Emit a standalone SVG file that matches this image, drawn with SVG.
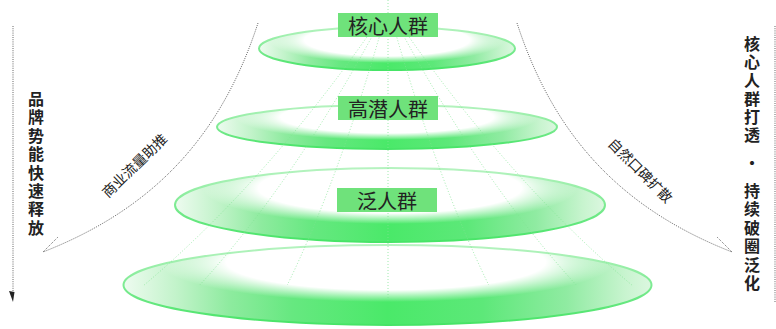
<svg xmlns="http://www.w3.org/2000/svg" width="776" height="329" viewBox="0 0 776 329">
<defs>
<linearGradient id="discFill" x1="0" y1="0" x2="1" y2="0">
<stop offset="0" stop-color="#eefbf0"/>
<stop offset="0.1" stop-color="#c2f3ca"/>
<stop offset="0.2" stop-color="#8eeb9f"/>
<stop offset="0.32" stop-color="#66e880"/>
<stop offset="0.5" stop-color="#4ae969"/>
<stop offset="0.68" stop-color="#5de879"/>
<stop offset="0.84" stop-color="#90eba2"/>
<stop offset="0.95" stop-color="#c8f4cf"/>
<stop offset="1" stop-color="#dcf7e0"/>
</linearGradient>
<radialGradient id="glow" cx="0.5" cy="0.5" r="0.5">
<stop offset="0" stop-color="#ffffff" stop-opacity="1"/>
<stop offset="0.7" stop-color="#ffffff" stop-opacity="1"/>
<stop offset="1" stop-color="#ffffff" stop-opacity="0"/>
</radialGradient>
<linearGradient id="rim" x1="0" y1="0" x2="0" y2="1">
<stop offset="0" stop-color="#b6f3c0"/>
<stop offset="0.6" stop-color="#72e989"/>
<stop offset="1" stop-color="#46e466"/>
</linearGradient>
</defs>
<style>
.fill{fill:url(#discFill);stroke:none}
.glow{fill:url(#glow);stroke:none}
.rim{fill:none;stroke:url(#rim);stroke-width:2}
.mer{fill:none;stroke:#7fe390;stroke-width:1;stroke-dasharray:1 2;opacity:0.75}
.guide{fill:none;stroke:#555;stroke-width:0.9;stroke-dasharray:1 1.2}
.lbl{fill:#6fe27b}
.lt{font-family:"Noto Sans CJK SC","Noto Sans",sans-serif;font-size:20px;fill:#222;text-anchor:middle;dominant-baseline:central}
.vt{font-family:"Noto Sans CJK SC","Noto Sans",sans-serif;font-size:16px;font-weight:bold;fill:#222;text-anchor:middle;dominant-baseline:central}
.ct{font-family:"Noto Sans CJK SC","Noto Sans",sans-serif;font-size:14px;fill:#222;text-anchor:middle;dominant-baseline:central}
</style>
<rect width="776" height="329" fill="#ffffff"/>

<g id="disc4">
<ellipse class="fill" cx="387.5" cy="285" rx="264" ry="40"/>
<ellipse class="glow" cx="386" cy="262" rx="228" ry="40"/>
<ellipse class="rim" cx="387.5" cy="285" rx="264" ry="40"/>
</g>
<g id="disc3">
<ellipse class="fill" cx="390" cy="205" rx="215" ry="37"/>
<ellipse class="glow" cx="390" cy="188" rx="188" ry="36"/>
<ellipse class="rim" cx="390" cy="205" rx="215" ry="37"/>
</g>
<g id="disc2">
<ellipse class="fill" cx="387" cy="127" rx="170" ry="22"/>
<ellipse class="glow" cx="387" cy="117" rx="152" ry="23"/>
<ellipse class="rim" cx="387" cy="127" rx="170" ry="22"/>
</g>
<g id="disc1">
<ellipse class="fill" cx="387" cy="48.5" rx="128" ry="21.5"/>
<ellipse class="glow" cx="387" cy="40" rx="118" ry="23"/>
<ellipse class="rim" cx="387" cy="48.5" rx="128" ry="21.5"/>
</g>

<g id="meridians">
<path class="mer" d="M388,0 V300"/>
<path class="mer" d="M391.8,20 Q437.4,180 488.7,285"/>
<path class="mer" d="M384.2,20 Q338.6,180 287.3,285"/>
<path class="mer" d="M395.1,20 Q480.3,180 576.2,285"/>
<path class="mer" d="M380.9,20 Q295.7,180 199.8,285"/>
<path class="mer" d="M397.2,20 Q507.6,180 631.8,285"/>
<path class="mer" d="M378.8,20 Q268.4,180 144.2,285"/>
</g>

<g id="label-core">
<rect class="lbl" x="338" y="13" width="100" height="24"/>
<text class="lt" x="388" y="25">核心人群</text>
</g>
<g id="label-potential">
<rect class="lbl" x="338" y="96" width="100" height="24"/>
<text class="lt" x="388" y="108">高潜人群</text>
</g>
<g id="label-broad">
<rect class="lbl" x="337" y="188" width="100" height="24"/>
<text class="lt" x="387" y="200">泛人群</text>
</g>

<g id="connectors">
<path class="guide" d="M13,26 V294"/>
<path d="M9,291 L14.5,292 L13,302 Z" fill="#222"/>
<path class="guide" d="M775,26 V302"/>
<path class="guide" d="M258,23 C220,140 150,210 43,252"/>
<path class="guide" d="M43,252 L58,237"/>
<path class="guide" d="M517,23 C555,140 625,210 732,252"/>
<path class="guide" d="M732,252 L717,237"/>
</g>

<g id="left-caption">
<text class="vt" x="36"><tspan x="36" y="98">品</tspan><tspan x="36" y="116.4">牌</tspan><tspan x="36" y="134.8">势</tspan><tspan x="36" y="153.2">能</tspan><tspan x="36" y="171.6">快</tspan><tspan x="36" y="190">速</tspan><tspan x="36" y="208.4">释</tspan><tspan x="36" y="226.8">放</tspan></text>
</g>
<g id="right-caption">
<text class="vt" x="752"><tspan x="752" y="43">核</tspan><tspan x="752" y="61.2">心</tspan><tspan x="752" y="79.4">人</tspan><tspan x="752" y="97.6">群</tspan><tspan x="752" y="115.8">打</tspan><tspan x="752" y="134">透</tspan><tspan x="752" y="162">·</tspan><tspan x="752" y="190">持</tspan><tspan x="752" y="208.4">续</tspan><tspan x="752" y="226.8">破</tspan><tspan x="752" y="245.2">圈</tspan><tspan x="752" y="263.6">泛</tspan><tspan x="752" y="282">化</tspan></text>
</g>
<g id="curve-label-left">
<text class="ct" transform="translate(134,165) rotate(-44)">商业流量助推</text>
</g>
<g id="curve-label-right">
<text class="ct" transform="translate(641,170) rotate(45)">自然口碑扩散</text>
</g>
</svg>
